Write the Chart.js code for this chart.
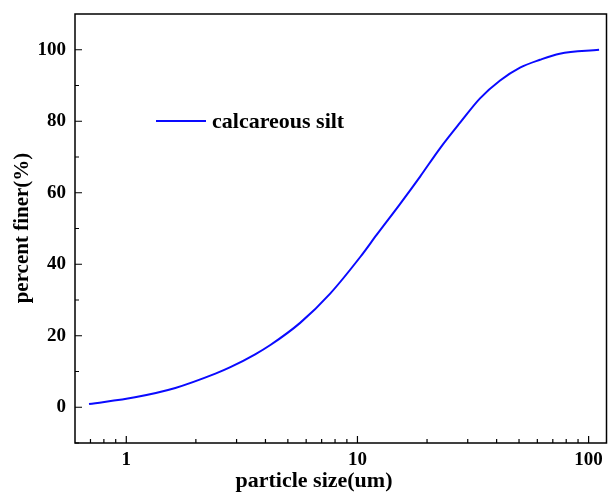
<!DOCTYPE html>
<html>
<head>
<meta charset="utf-8">
<script src="https://cdn.jsdelivr.net/npm/chart.js@4/dist/chart.umd.min.js"></script>
<style>
html,body{margin:0;padding:0;background:#fff;}
#wrap{width:608px;height:495px;}
</style>
</head>
<body>
<div id="wrap"><canvas id="c" width="608" height="495"></canvas></div>
<script>
const particleSize = [0.69, 1.09, 1.63, 2.43, 2.82, 3.61, 4.2, 5.65, 7.62, 10.3, 12.1, 15.3, 18.7, 22.8, 27.8, 33.9, 41.4, 50.5, 61.6, 75, 111];
const percentFiner = [0.9, 2.8, 5.4, 9.4, 11.2, 14.8, 17.4, 23.6, 31.8, 42.1, 48.2, 56.9, 64.6, 72.5, 79.6, 86.4, 91.4, 95.0, 97.2, 98.9, 100];
const xTicks = [1, 10, 100];
const xMinorTicks = [0.7, 0.8, 0.9, 2, 3, 4, 5, 6, 7, 8, 9, 20, 30, 40, 50, 60, 70, 80, 90];
const yTicks = [0, 20, 40, 60, 80, 100];
const yMinorTicks = [-10, 10, 30, 50, 70, 90];
const seriesName = 'calcareous silt';
const xTitle = 'particle size(um)';
const yTitle = 'percent finer(%)';

const FONT = '"Liberation Serif", "Times New Roman", serif';

const framePlugin = {
  id: 'frame',
  afterDatasetsDraw(chart) {
    const ctx = chart.ctx;
    const a = chart.chartArea;
    const xs = chart.scales.x, ys = chart.scales.y;
    ctx.save();
    ctx.strokeStyle = '#000';
    ctx.lineWidth = 1.5;
    ctx.strokeRect(a.left, a.top, a.right - a.left, a.bottom - a.top);
    ctx.lineWidth = 1.2;
    ctx.beginPath();
    xTicks.forEach(v => { const p = xs.getPixelForValue(v); ctx.moveTo(p, a.bottom); ctx.lineTo(p, a.bottom - 7); });
    xMinorTicks.forEach(v => { const p = xs.getPixelForValue(v); ctx.moveTo(p, a.bottom); ctx.lineTo(p, a.bottom - 4); });
    yTicks.forEach(v => { const p = ys.getPixelForValue(v); ctx.moveTo(a.left, p); ctx.lineTo(a.left + 7, p); });
    yMinorTicks.forEach(v => { const p = ys.getPixelForValue(v); ctx.moveTo(a.left, p); ctx.lineTo(a.left + 4, p); });
    ctx.stroke();
    // axis titles
    ctx.fillStyle = '#000';
    ctx.textBaseline = 'middle';
    ctx.textAlign = 'center';
    ctx.font = 'bold 22px ' + FONT;
    ctx.fillText(xTitle, 314, 481);
    ctx.save();
    ctx.translate(23, 228);
    ctx.rotate(-Math.PI / 2);
    ctx.font = 'bold 21px ' + FONT;
    ctx.fillText(yTitle, 0, 0);
    ctx.restore();
    // legend
    const ds = chart.data.datasets[0];
    ctx.strokeStyle = ds.borderColor;
    ctx.lineWidth = ds.borderWidth;
    ctx.beginPath();
    ctx.moveTo(156, 121); ctx.lineTo(206, 121);
    ctx.stroke();
    ctx.fillStyle = '#000';
    ctx.font = 'bold 22px ' + FONT;
    ctx.textAlign = 'left';
    ctx.fillText(ds.label, 212, 122);
    ctx.restore();
  }
};

new Chart(document.getElementById('c'), {
  type: 'line',
  data: {
    datasets: [{
      label: seriesName,
      data: particleSize.map((s, i) => ({x: s, y: percentFiner[i]})),
      borderColor: '#0a0aff',
      borderWidth: 2,
      pointRadius: 0,
      fill: false,
      cubicInterpolationMode: 'monotone'
    }]
  },
  options: {
    responsive: false,
    animation: false,
    layout: { padding: { top: 14, right: 1.5, left: 0, bottom: 0 } },
    plugins: { legend: { display: false }, tooltip: { enabled: false } },
    scales: {
      x: {
        type: 'logarithmic',
        min: 0.6,
        max: 119.5,
        afterBuildTicks(scale) { scale.ticks = xTicks.map(v => ({value: v})); },
        afterFit(scale) { scale.height = 52; scale.paddingLeft = 0; scale.paddingRight = 0; },
        ticks: {
          autoSkip: false,
          maxRotation: 0,
          padding: 6,
          color: '#000',
          font: { family: FONT, size: 19, weight: 'bold' },
          callback: (v) => String(v)
        },
        grid: { display: false, drawTicks: false },
        border: { display: false }
      },
      y: {
        type: 'linear',
        min: -10,
        max: 110,
        afterBuildTicks(scale) { scale.ticks = yTicks.map(v => ({value: v})); },
        afterFit(scale) { scale.width = 75; scale.paddingTop = 0; scale.paddingBottom = 0; },
        ticks: {
          padding: 9,
          color: '#000',
          font: { family: FONT, size: 19, weight: 'bold' }
        },
        grid: { display: false, drawTicks: false },
        border: { display: false }
      }
    }
  },
  plugins: [framePlugin]
});
</script>
</body>
</html>
